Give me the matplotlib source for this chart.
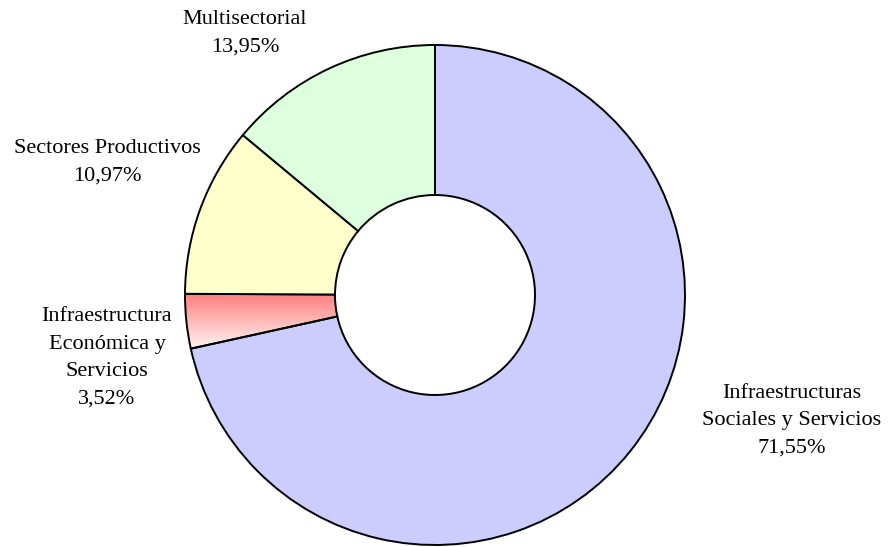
import numpy as np
import matplotlib.pyplot as plt
from matplotlib.patches import Wedge

# Data
labels = ["Infraestructuras\nSociales y Servicios", "Infraestructura\nEconómica y\nServicios",
          "Sectores Productivos", "Multisectorial"]
values = [71.55, 3.52, 10.97, 13.95]
colors = ["#CCCCFF", "#FF8080", "#FFFFCC", "#DDFFDD"]

W, H = 889, 547
cx, cy, R = 435, 295, 250   # pixel center and radius

fig = plt.figure(figsize=(W / 100, H / 100), dpi=100)
ax = fig.add_axes([0, 0, 1, 1])
ax.set_xlim(-cx / R, (W - cx) / R)
ax.set_ylim(-(H - cy) / R, cy / R)
ax.set_aspect("equal")
ax.axis("off")

plt.rcParams["font.family"] = ["Liberation Serif", "DejaVu Serif"]

wedges, _ = ax.pie(values, colors=colors, startangle=90, counterclock=False,
                   radius=1, wedgeprops=dict(width=0.6, edgecolor="black", linewidth=1.4))

# gradient on the small red slice: red at top fading to white
red = wedges[1]
red.set_facecolor("none")
grad = np.linspace(0, 1, 256).reshape(-1, 1)
cmap = plt.matplotlib.colors.LinearSegmentedColormap.from_list("rw", ["#FF7F7F", "#FFFFFF"])
th1, th2 = red.theta1, red.theta2
ys = [np.sin(np.radians(t)) for t in (th1, th2)]
y_top, y_bot = max(ys), min(ys)
im = ax.imshow(grad, cmap=cmap, extent=(-1.02, -0.3, y_bot - 0.02, y_top + 0.0),
               aspect="auto", zorder=red.get_zorder() - 0.5)
im.set_clip_path(Wedge((0, 0), 1, th1, th2, width=0.6, transform=ax.transData))
ax.set_xlim(-cx / R, (W - cx) / R)
ax.set_ylim(-(H - cy) / R, cy / R)

def px(x, y):
    return ((x - cx) / R, (cy - y) / R)

fs = 16
pcts = [f"{v:.2f}".replace(".", ",") + "%" for v in values]
label_pos = [(792, 421), (107, 358), (107, 162), (245, 33)]
for lab, pct, (x, y) in zip(labels, pcts, label_pos):
    ax.text(*px(x, y), lab + "\n" + pct, ha="center", va="center",
            fontsize=fs, linespacing=1.6, color="black")

fig.savefig("out.png", dpi=100)
